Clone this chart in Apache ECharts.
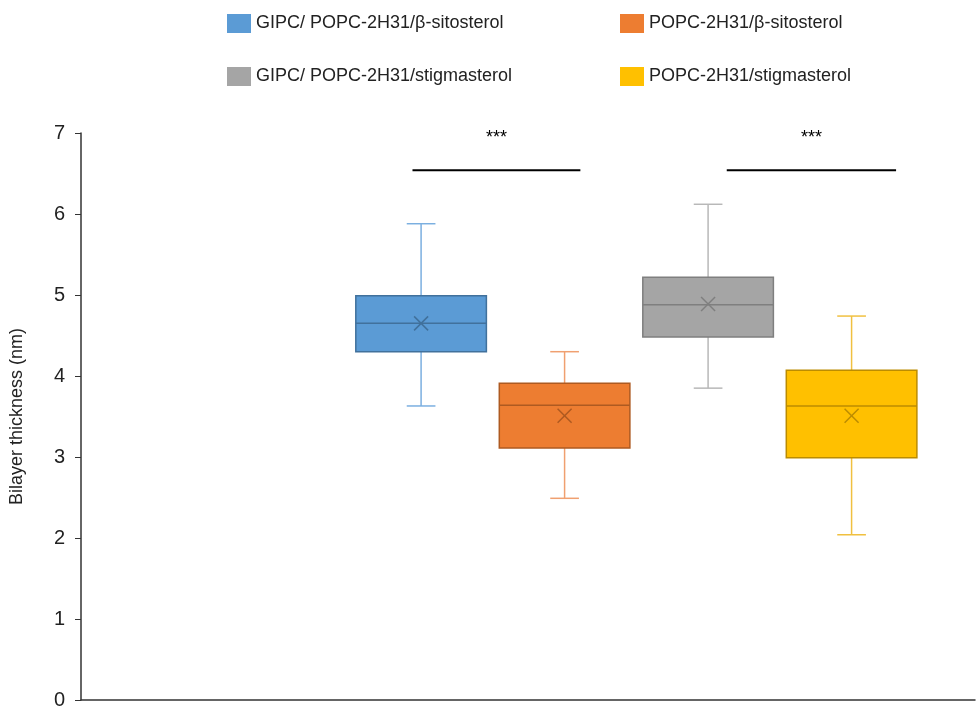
<!DOCTYPE html>
<html><head><meta charset="utf-8">
<script src="https://cdn.jsdelivr.net/npm/echarts@6/dist/echarts.min.js"></script>
<style>html,body{margin:0;background:#fff}#c{width:979px;height:713px}</style>
</head><body><div id="c"></div>
<script>
// box data: [min, q1, median, q3, max, mean]
const names = ['GIPC/ POPC-2H31/β-sitosterol', 'POPC-2H31/β-sitosterol', 'GIPC/ POPC-2H31/stigmasterol', 'POPC-2H31/stigmasterol'];
const boxes = [
  [3.63, 4.30, 4.65, 4.99, 5.88, 4.65],
  [2.49, 3.11, 3.64, 3.91, 4.30, 3.51],
  [3.85, 4.48, 4.88, 5.22, 6.12, 4.89],
  [2.04, 2.99, 3.63, 4.07, 4.74, 3.51]
];
const fills = ['#5B9BD5', '#ED7D31', '#A5A5A5', '#FFC000'];
const strokes = ['#41719C', '#AE5A21', '#7F7F7F', '#BC8C00'];
const whiskers = ['#7BAFE0', '#F0A070', '#B8B8B8', '#F0C040'];
// significance brackets: [x0, x1, y]
const sigs = [[0.94, 2.11, 6.54], [3.13, 4.31, 6.54]];

const chart = echarts.init(document.getElementById('c'));
const halfW = 0.455;
function boxRender(i) {
  return function (params, api) {
    const d = boxes[i];
    const x = i + 1;
    const p = (xx, yy) => api.coord([xx, yy]);
    const cap = 0.1;
    const ws = { stroke: whiskers[i], lineWidth: 1.5 };
    const tl = p(x - halfW, d[3]), br = p(x + halfW, d[1]);
    const m = p(x, d[5]);
    const s = 7;
    return { type: 'group', children: [
      { type: 'line', shape: { x1: p(x, d[3])[0], y1: p(x, d[3])[1], x2: p(x, d[4])[0], y2: p(x, d[4])[1] }, style: ws },
      { type: 'line', shape: { x1: p(x, d[1])[0], y1: p(x, d[1])[1], x2: p(x, d[0])[0], y2: p(x, d[0])[1] }, style: ws },
      { type: 'line', shape: { x1: p(x - cap, d[4])[0], y1: p(x, d[4])[1], x2: p(x + cap, d[4])[0], y2: p(x, d[4])[1] }, style: ws },
      { type: 'line', shape: { x1: p(x - cap, d[0])[0], y1: p(x, d[0])[1], x2: p(x + cap, d[0])[0], y2: p(x, d[0])[1] }, style: ws },
      { type: 'rect', shape: { x: tl[0], y: tl[1], width: br[0] - tl[0], height: br[1] - tl[1] }, style: { fill: fills[i], stroke: strokes[i], lineWidth: 1.5 } },
      { type: 'line', shape: { x1: tl[0], y1: p(x, d[2])[1], x2: br[0], y2: p(x, d[2])[1] }, style: { stroke: strokes[i], lineWidth: 1.5 } },
      { type: 'line', shape: { x1: m[0] - s, y1: m[1] - s, x2: m[0] + s, y2: m[1] + s }, style: { stroke: strokes[i], lineWidth: 1.5 } },
      { type: 'line', shape: { x1: m[0] - s, y1: m[1] + s, x2: m[0] + s, y2: m[1] - s }, style: { stroke: strokes[i], lineWidth: 1.5 } }
    ]};
  };
}
const series = names.map((n, i) => ({
  name: n, type: 'custom', data: [[i + 1, boxes[i][2]]],
  itemStyle: { color: fills[i], borderColor: strokes[i] },
  renderItem: boxRender(i)
}));
series.push({
  type: 'custom', data: sigs, silent: true,
  renderItem: function (params, api) {
    const a = api.coord([api.value(0), api.value(2)]), b = api.coord([api.value(1), api.value(2)]);
    return { type: 'group', children: [
      { type: 'line', shape: { x1: a[0], y1: a[1], x2: b[0], y2: b[1] }, style: { stroke: '#000', lineWidth: 2 } },
      { type: 'text', style: { text: '***', x: (a[0] + b[0]) / 2, y: a[1] - 32, align: 'center', verticalAlign: 'middle', fill: '#000', font: '18px Arial' } }
    ]};
  }
});
const legendBase = { orient: 'horizontal', itemWidth: 24, itemHeight: 19, icon: 'rect', textStyle: { fontSize: 18, color: '#222', fontFamily: 'Liberation Sans' } };
chart.setOption({
  animation: false,
  legend: [
    Object.assign({ data: [names[0]], left: 222, top: 9 }, legendBase),
    Object.assign({ data: [names[1]], left: 615, top: 9 }, legendBase),
    Object.assign({ data: [names[2]], left: 222, top: 62 }, legendBase),
    Object.assign({ data: [names[3]], left: 615, top: 62 }, legendBase)
  ],
  grid: { left: 76, right: 4, top: 133, bottom: 13 },
  xAxis: { type: 'value', min: -1.37, max: 4.86, axisLine: { lineStyle: { color: '#333', width: 1.5 } }, axisTick: { show: false }, axisLabel: { show: false }, splitLine: { show: false } },
  yAxis: {
    type: 'value', min: 0, max: 7, interval: 1,
    name: 'Bilayer thickness (nm)', nameLocation: 'middle', nameGap: 55,
    nameTextStyle: { fontSize: 18, color: '#222', fontFamily: 'Liberation Sans' },
    axisLine: { show: true, onZero: false, lineStyle: { color: '#333', width: 1.5 } },
    axisTick: { show: true, length: 6, lineStyle: { color: '#333' } },
    axisLabel: { fontSize: 20, color: '#222', fontFamily: 'Liberation Sans', margin: 16 },
    splitLine: { show: false }
  },
  series: series
});
</script></body></html>
